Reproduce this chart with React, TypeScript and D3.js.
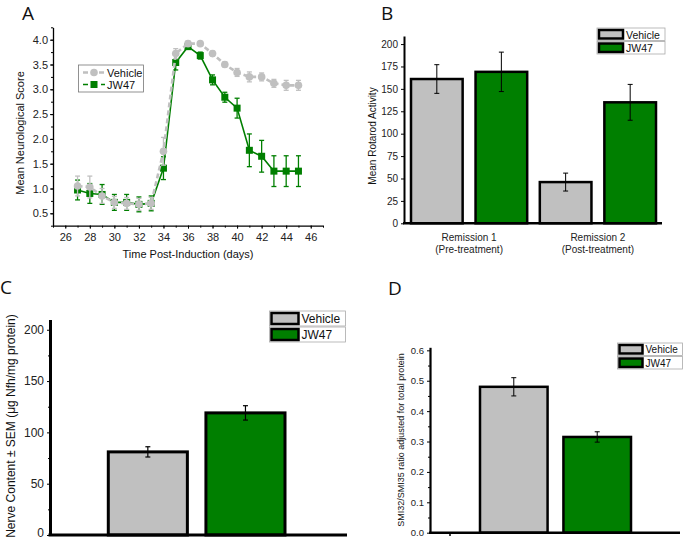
import React, { useEffect, useRef } from "react";
import * as d3 from "d3";

// Panel A: neurological score over time
const days = [27, 28, 29, 30, 31, 32, 33, 34, 35, 36, 37, 38, 39, 40, 41, 42, 43, 44, 45];
const vehicleScore = [1.05, 1.03, 0.85, 0.72, 0.7, 0.68, 0.7, 1.75, 3.72, 3.92, 3.92, 3.72, 3.5, 3.34, 3.25, 3.25, 3.12, 3.08, 3.08];
const vehicleScoreErr = [0.2, 0.22, 0.15, 0.12, 0.12, 0.12, 0.12, 0.28, 0.1, 0.05, 0.04, 0.05, 0.05, 0.08, 0.1, 0.08, 0.08, 0.1, 0.1];
const jw47Score = [0.97, 0.9, 0.88, 0.72, 0.72, 0.68, 0.7, 1.41, 3.54, 3.86, 3.68, 3.19, 2.84, 2.62, 1.77, 1.65, 1.35, 1.35, 1.35];
const jw47ScoreErr = [0.2, 0.2, 0.2, 0.16, 0.16, 0.15, 0.15, 0.23, 0.15, 0.05, 0.07, 0.1, 0.1, 0.2, 0.33, 0.32, 0.31, 0.31, 0.31];
const scoreTicks = [0.5, 1.0, 1.5, 2.0, 2.5, 3.0, 3.5, 4.0];
const dayTicks = [26, 28, 30, 32, 34, 36, 38, 40, 42, 44, 46];

// Panel B: rotarod
const remissions = ["Remission 1", "Remission 2"];
const remissionSub = ["(Pre-treatment)", "(Post-treatment)"];
const rotarodVehicle = [161, 46];
const rotarodVehicleErr = [16, 10];
const rotarodJw47 = [169, 135];
const rotarodJw47Err = [22, 20];
const rotarodTicks = [0, 25, 50, 75, 100, 125, 150, 175, 200];

// Panels C and D
const series = ["Vehicle", "JW47"];
const nerveContent = [81, 119];
const nerveContentErr = [5, 7];
const nerveTicks = [0, 50, 100, 150, 200];
const smiRatio = [0.48, 0.315];
const smiRatioErr = [0.03, 0.017];
const smiTicks = [0, 0.1, 0.2, 0.3, 0.4, 0.5, 0.6];

const GRAY = "#c0c0c0";
const GREEN = "#007f00";
const FONT = "'Liberation Sans', Arial, sans-serif";
const colors = [GRAY, GREEN];

type Sel = d3.Selection<SVGSVGElement, unknown, null, undefined>;

const styleAxis = (g: any, fs: number, width: number) => {
  g.attr("font-family", FONT).attr("font-size", fs);
  g.select(".domain").attr("stroke", "#000").attr("stroke-width", width);
  g.selectAll(".tick line").attr("stroke", "#000").attr("stroke-width", 1);
  g.selectAll(".tick text").attr("fill", "#222");
};

const errorBar = (svg: any, cx: number, y0: number, y1: number, color: string, cap: number, w = 1) => {
  svg.append("line").attr("x1", cx).attr("x2", cx).attr("y1", y0).attr("y2", y1)
    .attr("stroke", color).attr("stroke-width", w);
  [y0, y1].forEach((yy) =>
    svg.append("line").attr("x1", cx - cap / 2).attr("x2", cx + cap / 2).attr("y1", yy).attr("y2", yy)
      .attr("stroke", color).attr("stroke-width", w)
  );
};

const panelLabel = (svg: any, x: number, y: number, t: string) => {
  svg.append("text").attr("x", x).attr("y", y).attr("font-family", "'Open Sans', sans-serif")
    .attr("font-size", 19).attr("fill", "#111").text(t);
};

const barLegend = (svg: any, x: number, y: number, rowH: number, swW: number, fs: number, frameW: number) => {
  series.forEach((s, i) => {
    const yy = y + i * rowH;
    svg.append("rect").attr("x", x).attr("y", yy).attr("width", frameW).attr("height", rowH - 1)
      .attr("fill", "#fff").attr("stroke", "#aaa").attr("stroke-width", 0.8);
    svg.append("rect").attr("x", x + 2).attr("y", yy + 2).attr("width", swW).attr("height", rowH - 5)
      .attr("fill", colors[i]).attr("stroke", "#000").attr("stroke-width", 2.5);
    svg.append("text").attr("x", x + swW + 5).attr("y", yy + rowH / 2 + fs * 0.36)
      .attr("font-family", FONT).attr("font-size", fs).attr("fill", "#111").text(s);
  });
};

const drawA = (svg: Sel) => {
  const x = d3.scaleLinear().domain([25, 47]).range([53, 323]);
  const y = d3.scaleLinear().domain([0.25, 4.25]).range([225.7, 27.3]);

  const minorY = d3.range(0.25, 4.26, 0.25);
  svg.append("g").attr("transform", "translate(53,0)")
    .call(d3.axisLeft(y).tickValues(minorY).tickSize(2).tickFormat(() => ""))
    .call((g) => g.select(".domain").remove())
    .selectAll("line").attr("stroke", "#000");
  const ya = svg.append("g").attr("transform", "translate(53,0)")
    .call(d3.axisLeft(y).tickValues(scoreTicks).tickSize(3).tickSizeOuter(0).tickPadding(2).tickFormat(d3.format(".1f")));
  styleAxis(ya, 11, 1.3);

  const minorX = d3.range(25, 47.1, 1);
  svg.append("g").attr("transform", "translate(0,225.7)")
    .call(d3.axisBottom(x).tickValues(minorX).tickSize(2).tickFormat(() => ""))
    .call((g) => g.select(".domain").remove())
    .selectAll("line").attr("stroke", "#000");
  const xa = svg.append("g").attr("transform", "translate(0,225.7)")
    .call(d3.axisBottom(x).tickValues(dayTicks).tickSize(3).tickSizeOuter(0).tickPadding(5));
  styleAxis(xa, 11, 1.3);

  svg.append("text").attr("x", 188).attr("y", 258).attr("text-anchor", "middle")
    .attr("font-family", FONT).attr("font-size", 11).attr("fill", "#111").text("Time Post-Induction (days)");
  svg.append("text").attr("transform", "translate(24,133) rotate(-90)").attr("text-anchor", "middle")
    .attr("font-family", FONT).attr("font-size", 11).attr("fill", "#111").text("Mean Neurological Score");

  const line = d3.line<number>().x((_, i) => x(days[i])).y((d) => y(d));

  // JW47
  svg.append("path").datum(jw47Score).attr("d", line).attr("fill", "none")
    .attr("stroke", GREEN).attr("stroke-width", 1.6);
  jw47Score.forEach((v, i) => errorBar(svg, x(days[i]), y(v - jw47ScoreErr[i]), y(v + jw47ScoreErr[i]), GREEN, 5, 1.3));
  svg.append("g").selectAll("rect").data(jw47Score).join("rect")
    .attr("x", (_, i) => x(days[i]) - 3.5).attr("y", (d) => y(d) - 3.5)
    .attr("width", 7).attr("height", 7).attr("fill", GREEN);

  // Vehicle
  svg.append("path").datum(vehicleScore).attr("d", line).attr("fill", "none")
    .attr("stroke", GRAY).attr("stroke-width", 2.6).attr("stroke-dasharray", "5,3");
  vehicleScore.forEach((v, i) => errorBar(svg, x(days[i]), y(v - vehicleScoreErr[i]), y(v + vehicleScoreErr[i]), GRAY, 5, 1.3));
  svg.append("g").selectAll("circle").data(vehicleScore).join("circle")
    .attr("cx", (_, i) => x(days[i])).attr("cy", (d) => y(d)).attr("r", 3.8).attr("fill", GRAY);

  // legend
  svg.append("rect").attr("x", 78.5).attr("y", 65).attr("width", 65).attr("height", 27)
    .attr("fill", "#fff").attr("stroke", "#777").attr("stroke-width", 0.8);
  [0, 1].forEach((i) => {
    const yy = 72.5 + i * 12;
    svg.append("line").attr("x1", 83).attr("x2", 105).attr("y1", yy).attr("y2", yy)
      .attr("stroke", colors[i]).attr("stroke-width", i === 0 ? 2.6 : 1.6)
      .attr("stroke-dasharray", i === 0 ? "5,3" : "5,4");
    if (i === 0) svg.append("circle").attr("cx", 94).attr("cy", yy).attr("r", 3.8).attr("fill", GRAY);
    else svg.append("rect").attr("x", 90.5).attr("y", yy - 3.5).attr("width", 7).attr("height", 7).attr("fill", GREEN);
    svg.append("text").attr("x", 107).attr("y", yy + 4).attr("font-family", FONT).attr("font-size", 11)
      .attr("fill", "#111").text(series[i]);
  });

  panelLabel(svg, 22, 20, "A");
};

const drawB = (svg: Sel) => {
  const y = d3.scaleLinear().domain([0, 209]).range([223.3, 36]);
  const x0 = d3.scaleBand().domain(remissions).range([411, 656]).paddingInner(0.098).paddingOuter(0);
  const x1 = d3.scaleBand().domain(series).range([0, x0.bandwidth()]).paddingInner(0.2).paddingOuter(0);
  const vals = [rotarodVehicle, rotarodJw47];
  const errs = [rotarodVehicleErr, rotarodJw47Err];

  remissions.forEach((r, gi) => {
    series.forEach((s, si) => {
      const bx = (x0(r) as number) + (x1(s) as number);
      const v = vals[si][gi];
      svg.append("rect").attr("x", bx).attr("y", y(v)).attr("width", x1.bandwidth()).attr("height", y(0) - y(v))
        .attr("fill", colors[si]).attr("stroke", "#000").attr("stroke-width", 2.5);
      errorBar(svg, bx + x1.bandwidth() / 2, y(v - errs[si][gi]), y(v + errs[si][gi]), "#000", 5, 1);
    });
    const cx = (x0(r) as number) + x0.bandwidth() / 2;
    svg.append("text").attr("x", cx).attr("y", 241).attr("text-anchor", "middle")
      .attr("font-family", FONT).attr("font-size", 10).attr("fill", "#222").text(r);
    svg.append("text").attr("x", cx).attr("y", 253).attr("text-anchor", "middle")
      .attr("font-family", FONT).attr("font-size", 10).attr("fill", "#222").text(remissionSub[gi]);
  });

  const ya = svg.append("g").attr("transform", "translate(404,0)")
    .call(d3.axisLeft(y).tickValues(rotarodTicks).tickSize(3).tickSizeOuter(0).tickPadding(3));
  styleAxis(ya, 10, 2);
  svg.append("line").attr("x1", 403).attr("x2", 662).attr("y1", 223.3).attr("y2", 223.3)
    .attr("stroke", "#000").attr("stroke-width", 2.5);

  svg.append("text").attr("transform", "translate(376,136) rotate(-90)").attr("text-anchor", "middle")
    .attr("font-family", FONT).attr("font-size", 10).attr("fill", "#111").text("Mean Rotarod Activity");

  barLegend(svg, 597, 28, 13.5, 24, 10.5, 68);
  panelLabel(svg, 381, 20, "B");
};

const drawC = (svg: Sel) => {
  const y = d3.scaleLinear().domain([0, 210]).range([535, 319.5]);
  const x = d3.scaleBand().domain(series).range([108.3, 285]).paddingInner(0.19).paddingOuter(0);

  nerveContent.forEach((v, i) => {
    const bx = x(series[i]) as number;
    svg.append("rect").attr("x", bx).attr("y", y(v)).attr("width", x.bandwidth()).attr("height", y(0) - y(v))
      .attr("fill", colors[i]).attr("stroke", "#000").attr("stroke-width", 3);
    errorBar(svg, bx + x.bandwidth() / 2, y(v - nerveContentErr[i]), y(v + nerveContentErr[i]), "#000", 5, 1.2);
  });

  const minor = d3.range(25, 210, 50);
  svg.append("g").attr("transform", "translate(50,0)")
    .call(d3.axisLeft(y).tickValues(minor).tickSize(2).tickFormat(() => ""))
    .call((g) => g.select(".domain").remove())
    .selectAll("line").attr("stroke", "#000");
  const ya = svg.append("g").attr("transform", "translate(50,0)")
    .call(d3.axisLeft(y).tickValues(nerveTicks).tickSize(3).tickSizeOuter(0).tickPadding(3));
  styleAxis(ya, 12, 3);
  // keep the "0" label inside the picture
  ya.selectAll(".tick text").filter((d: any) => d === 0).attr("dy", "0.1em");
  svg.append("line").attr("x1", 48.5).attr("x2", 347).attr("y1", 535).attr("y2", 535)
    .attr("stroke", "#000").attr("stroke-width", 3);

  svg.append("text").attr("transform", "translate(15,426) rotate(-90)").attr("text-anchor", "middle")
    .attr("font-family", FONT).attr("font-size", 12).attr("fill", "#111")
    .text("Nerve Content \u00b1 SEM (\u03bcg Nfh/mg protein)");

  barLegend(svg, 269.5, 311, 16, 27, 12, 76);
  panelLabel(svg, 0, 294, "C");
};

const drawD = (svg: Sel) => {
  const y = d3.scaleLinear().domain([0, 0.61]).range([532.7, 347.3]);
  const x = d3.scaleBand().domain(series).range([480, 631]).paddingInner(0.19).paddingOuter(0);

  smiRatio.forEach((v, i) => {
    const bx = x(series[i]) as number;
    svg.append("rect").attr("x", bx).attr("y", y(v)).attr("width", x.bandwidth()).attr("height", y(0) - y(v))
      .attr("fill", colors[i]).attr("stroke", "#000").attr("stroke-width", 2.5);
    errorBar(svg, bx + x.bandwidth() / 2, y(v - smiRatioErr[i]), y(v + smiRatioErr[i]), "#000", 5, 1);
  });

  const minor = d3.range(0.05, 0.6, 0.1);
  svg.append("g").attr("transform", "translate(430,0)")
    .call(d3.axisLeft(y).tickValues(minor).tickSize(2).tickFormat(() => ""))
    .call((g) => g.select(".domain").remove())
    .selectAll("line").attr("stroke", "#000");
  const ya = svg.append("g").attr("transform", "translate(430,0)")
    .call(d3.axisLeft(y).tickValues(smiTicks).tickSize(3).tickSizeOuter(0).tickPadding(3).tickFormat(d3.format(".1f")));
  styleAxis(ya, 9.5, 2.2);
  svg.append("line").attr("x1", 429).attr("x2", 680).attr("y1", 532.7).attr("y2", 532.7)
    .attr("stroke", "#000").attr("stroke-width", 2.5);
  svg.append("line").attr("x1", 450).attr("x2", 450).attr("y1", 532.7).attr("y2", 536)
    .attr("stroke", "#000").attr("stroke-width", 1.5);

  svg.append("text").attr("transform", "translate(404,440) rotate(-90)").attr("text-anchor", "middle")
    .attr("font-family", FONT).attr("font-size", 9).attr("fill", "#111")
    .text("SMI32/SMI35 ratio adjusted for total protein");

  barLegend(svg, 617.5, 343, 13.5, 23, 10, 65);
  panelLabel(svg, 388, 295, "D");
};

const App = () => {
  const ref = useRef<SVGSVGElement>(null);

  useEffect(() => {
    document.body.style.margin = "0";
    const svg = d3.select(ref.current as SVGSVGElement);
    svg.selectAll("*").remove();
    drawA(svg);
    drawB(svg);
    drawC(svg);
    drawD(svg);
  });

  return (
    <div style={{ width: 683, height: 539, background: "#fff" }}>
      <svg ref={ref} width={683} height={539} style={{ display: "block" }} />
    </div>
  );
};

export default App;
